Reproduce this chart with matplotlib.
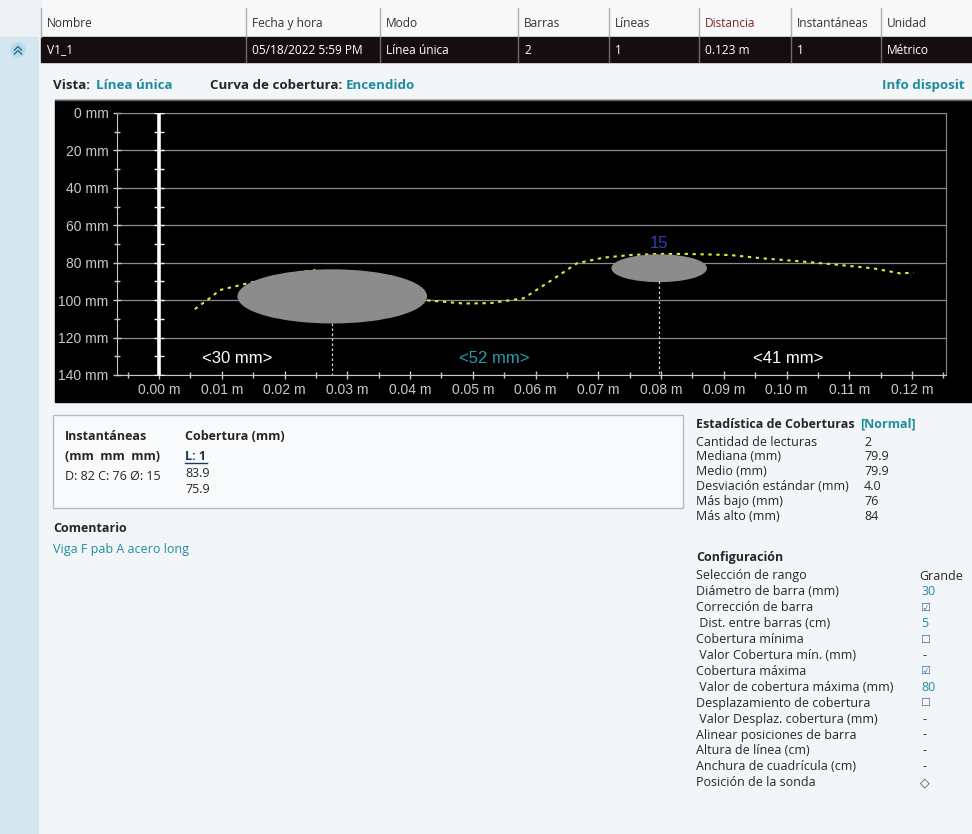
import numpy as np
import matplotlib
matplotlib.use("Agg")
import matplotlib.pyplot as plt
from matplotlib.patches import Rectangle, Ellipse, Circle
from matplotlib.ticker import MultipleLocator, FuncFormatter

plt.rcParams['font.family'] = ['Open Sans', 'DejaVu Sans']

# ---- datos ----
col_names = ["Nombre", "Fecha y hora", "Modo", "Barras", "Líneas", "Distancia", "Instantáneas", "Unidad"]
row_values = ["V1_1", "05/18/2022 5:59 PM", "Línea única", "2", "1", "0.123 m", "1", "Métrico"]

# curva de cobertura (m, mm)
curve_x = [0.0057, 0.0081, 0.0097, 0.0145, 0.0200, 0.0245, 0.0300, 0.0360, 0.0424,
           0.0485, 0.0528, 0.0581, 0.0618, 0.0666, 0.0708, 0.0751, 0.0798, 0.0841,
           0.0910, 0.0963, 0.1016, 0.1069, 0.1138, 0.1181, 0.1202]
curve_y = [104.8, 98.9, 94.6, 90.7, 86.5, 84.0, 86.0, 93.0, 100.0,
           101.8, 101.6, 99.0, 91.0, 80.3, 77.3, 75.9, 75.3, 75.3,
           75.9, 77.7, 79.1, 80.7, 83.0, 85.7, 85.3]

# barras detectadas
bar_x = [0.0276, 0.0797]
bar_cover = [83.9, 75.9]
bar_diam = [30, 15]
bar_label = ["", "15"]

# separaciones
gap_labels = ["<30 mm>", "<52 mm>", "<41 mm>"]
gap_x = [0.0124, 0.0534, 0.1002]
gap_colors = ["white", "#1f9fb2", "white"]

stats_labels = ["Cantidad de lecturas", "Mediana (mm)", "Medio (mm)",
                "Desviación estándar (mm)", "Más bajo (mm)", "Más alto (mm)"]
stats_values = ["2", "79.9", "79.9", "4.0", "76", "84"]

config_labels = ["Selección de rango", "Diámetro de barra (mm)", "Corrección de barra",
                 " Dist. entre barras (cm)", "Cobertura mínima", " Valor Cobertura mín. (mm)",
                 "Cobertura máxima", " Valor de cobertura máxima (mm)",
                 "Desplazamiento de cobertura", " Valor Desplaz. cobertura (mm)",
                 "Alinear posiciones de barra", "Altura de línea (cm)",
                 "Anchura de cuadrícula (cm)", "Posición de la sonda"]
config_values = ["Grande", "30", "☑", "5", "☐", "-", "☑", "80", "☐", "-", "-", "-", "-", "◇"]

W, H = 972, 834
fig = plt.figure(figsize=(W / 100, H / 100), dpi=100)

# ---- fondo de la interfaz ----
bg = fig.add_axes([0, 0, 1, 1])
bg.set_xlim(0, W)
bg.set_ylim(H, 0)
bg.axis('off')

teal = "#1f8c9e"
dark = "#262626"
fs = 9

bg.add_patch(Rectangle((0, 0), W, H, color="#f3f6f9", zorder=0))
bg.add_patch(Rectangle((0, 0), W, 37, color="#f8f8f8", zorder=0))
bg.add_patch(Rectangle((0, 0), 41, 37, color="#eef1f4", zorder=0))
bg.add_patch(Rectangle((0, 37), 38, H - 37, color="#d4e7f1", zorder=0))
bg.add_patch(Rectangle((41, 37), W - 41, 25, color="#160e0e", zorder=1))

col_x = [41, 246, 380, 518, 609, 699, 791, 881]
for i, cx in enumerate(col_x):
    bg.plot([cx, cx], [8, 37], color="#b0b0b0", lw=1, zorder=2)
    if i > 0:
        bg.plot([cx, cx], [37, 62], color="#6a6a6a", lw=1, zorder=2)
    tcol = "#7a2a2a" if col_names[i] == "Distancia" else "#333333"
    bg.text(cx + 6, 23, col_names[i], fontsize=8.6, color=tcol, va='center', zorder=3)
    bg.text(cx + 6, 50, row_values[i], fontsize=8.6, color="white", va='center', zorder=3)

# icono de plegar
bg.add_patch(Circle((18, 50), 7, color="#bcd9e8", zorder=2))
for dy in (-2, 2):
    bg.plot([14.5, 18, 21.5], [50 + dy + 2, 50 + dy - 1.5, 50 + dy + 2], color="#2a7a96", lw=1.1, zorder=3)

# cabecera de la vista
bg.text(53, 85, "Vista:", fontsize=9.6, fontweight='bold', color=dark, va='center')
bg.text(96, 85, "Línea única", fontsize=9.6, fontweight='bold', color=teal, va='center')
bg.text(210, 85, "Curva de cobertura:", fontsize=9.6, fontweight='bold', color=dark, va='center')
bg.text(346, 85, "Encendido", fontsize=9.6, fontweight='bold', color=teal, va='center')
bg.text(882, 85, "Info disposit", fontsize=9.6, fontweight='bold', color=teal, va='center')

# panel negro del gráfico
bg.add_patch(Rectangle((55, 100), W - 55, 302, color="black", zorder=1))
bg.plot([55, W], [100, 100], color="#606060", lw=1, zorder=2)

# caja de instantáneas
bg.add_patch(Rectangle((53, 415), 630, 93, facecolor="#f8fafc", edgecolor="#b4bcc4", lw=1, zorder=1))
bg.text(65, 436, "Instantáneas", fontsize=fs, fontweight='bold', color=dark, va='center')
bg.text(65, 456, "(mm  mm  mm)", fontsize=fs, fontweight='bold', color=dark, va='center')
bg.text(65, 476, "D: 82 C: 76 Ø: 15", fontsize=fs, color=dark, va='center')
bg.text(185, 436, "Cobertura (mm)", fontsize=fs, fontweight='bold', color=dark, va='center')
bg.text(185, 456, "L: 1", fontsize=fs, fontweight='bold', color="#1a3a5c", va='center')
bg.plot([185, 207], [463, 463], color="#1a3a5c", lw=1)
bg.text(185, 473, "83.9", fontsize=fs, color=dark, va='center')
bg.text(185, 489, "75.9", fontsize=fs, color=dark, va='center')

bg.text(53, 529, "Comentario", fontsize=fs, fontweight='bold', color=dark, va='center')
bg.text(53, 550, "Viga F pab A acero long", fontsize=fs, color=teal, va='center')

# estadística
bg.text(696, 424, "Estadística de Coberturas", fontsize=fs, fontweight='bold', color=dark, va='center')
bg.text(860, 424, "[Normal]", fontsize=fs, fontweight='bold', color=teal, va='center')
for i, (lab, val) in enumerate(zip(stats_labels, stats_values)):
    y = 442 + i * 14.8
    bg.text(696, y, lab, fontsize=fs, color=dark, va='center')
    bg.text(864, y, val, fontsize=fs, color=dark, va='center')

# configuración
bg.text(696, 557, "Configuración", fontsize=fs, fontweight='bold', color=dark, va='center')
for i, (lab, val) in enumerate(zip(config_labels, config_values)):
    y = 576 + i * 15.9
    bg.text(696, y, lab, fontsize=fs, color=dark, va='center')
    if val in ("☑", "☐"):
        bg.text(925, y, val, fontsize=8, color="#3a6a9a", va='center', ha='center',
                family=['DejaVu Sans'])
    elif val == "◇":
        bg.text(925, y, val, fontsize=fs, color="#444444", va='center', ha='center',
                family=['DejaVu Sans'])
    elif val == "Grande" or val == "-":
        bg.text(919 if val == "Grande" else 922, y, val, fontsize=fs, color=dark, va='center')
    else:
        bg.text(921, y, val, fontsize=fs, color=teal, va='center')

# ---- gráfico de cobertura ----
l, r, t, b = 117, 946, 113, 375
ax = fig.add_axes([l / W, 1 - b / H, (r - l) / W, (b - t) / H])
ax.set_facecolor("black")
ax.set_xlim(-0.0067, 0.1254)
ax.set_ylim(140, 0)

chart_font = ['Liberation Sans', 'DejaVu Sans']
ax.yaxis.set_major_locator(MultipleLocator(20))
ax.yaxis.set_minor_locator(MultipleLocator(10))
ax.xaxis.set_major_locator(MultipleLocator(0.01))
ax.xaxis.set_minor_locator(MultipleLocator(0.005))
ax.yaxis.set_major_formatter(FuncFormatter(lambda v, p: f"{v:.0f} mm"))
ax.xaxis.set_major_formatter(FuncFormatter(lambda v, p: f"{abs(v):.2f} m"))
ax.tick_params(axis='both', which='major', direction='inout', length=6, width=1,
               colors='#c8c8c8', labelsize=10, pad=3)
ax.tick_params(axis='both', which='minor', direction='inout', length=4, width=1, colors='#c8c8c8')
for lab in ax.get_xticklabels() + ax.get_yticklabels():
    lab.set_family(chart_font)
ax.grid(axis='y', which='major', color='#8a8a8a', lw=0.9)
for side in ('left', 'bottom'):
    ax.spines[side].set_color('#c8c8c8')
for side in ('top', 'right'):
    ax.spines[side].set_color('#8a8a8a')

# línea de inicio
ax.axvline(0, color='white', lw=2.6, zorder=3)
ax.plot(np.zeros(15), np.arange(0, 141, 10), ls='none', marker='_', ms=7, mew=1, color='white', zorder=3)

# curva de cobertura
ax.plot(curve_x, curve_y, color='#e6e63c', ls=(0, (1.6, 2.2)), lw=1.5, zorder=4)

# barras
for bx, cov, d, lab in zip(bar_x, bar_cover, bar_diam, bar_label):
    hgt = d * 0.94
    ax.add_patch(Ellipse((bx, cov + hgt / 2), d / 1000, hgt, color='#8c8c8c', zorder=5))
    ax.plot([bx, bx], [cov + hgt, 140], color='#d0d0d0', ls=(0, (2, 2)), lw=0.9, zorder=5)
    if lab:
        ax.text(bx, cov - 6, lab, color='#3340b8', fontsize=12, ha='center', va='center',
                family=chart_font, zorder=6)

for gx, gl, gc in zip(gap_x, gap_labels, gap_colors):
    ax.text(gx, 131, gl, color=gc, fontsize=12, ha='center', va='center', family=chart_font, zorder=6)

fig.savefig("out.png", dpi=100)
